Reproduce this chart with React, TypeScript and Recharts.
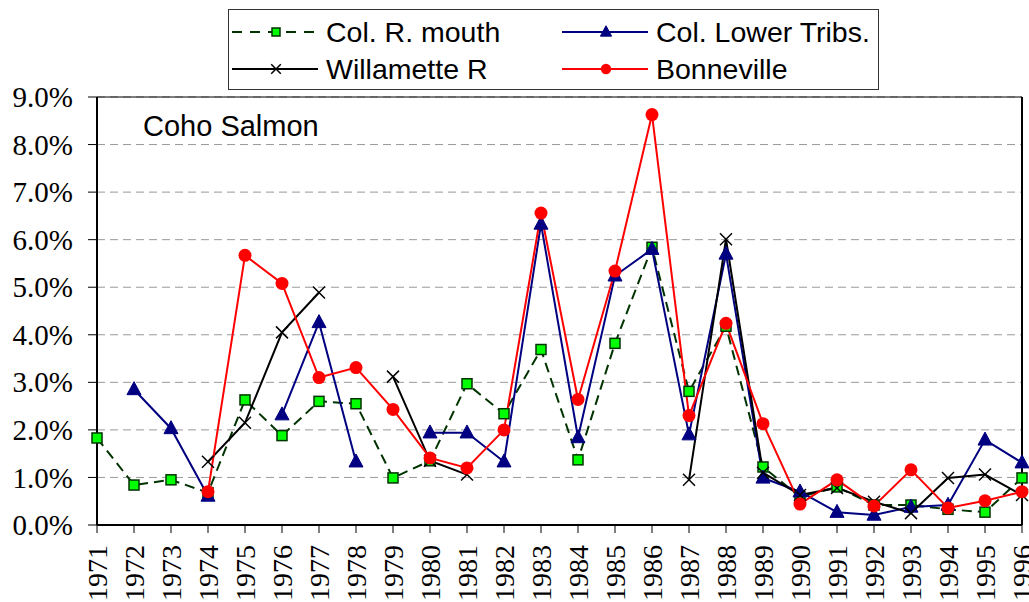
import React from 'react';
import { LineChart, Line, XAxis, YAxis, CartesianGrid, ReferenceLine } from 'recharts';

const years = [
  '1971', '1972', '1973', '1974', '1975', '1976', '1977', '1978', '1979', '1980', '1981', '1982', '1983',
  '1984', '1985', '1986', '1987', '1988', '1989', '1990', '1991', '1992', '1993', '1994', '1995', '1996',
];

// values in percent
const colRMouth = [1.83, 0.84, 0.95, 0.68, 2.63, 1.88, 2.6, 2.55, 0.99, 1.35, 2.97, 2.34, 3.69, 1.37, 3.82, 5.84, 2.81, 4.18, 1.22, 0.59, 0.8, 0.42, 0.42, 0.33, 0.27, 0.99];
const colLowerTribs = [null, 2.85, 2.03, 0.61, null, 2.32, 4.26, 1.33, null, 1.94, 1.94, 1.33, 6.33, 1.84, 5.24, 5.8, 1.9, 5.7, 0.99, 0.7, 0.27, 0.21, 0.38, 0.42, 1.79, 1.31];
const willametteR = [null, null, null, 1.33, 2.15, 4.05, 4.89, null, 3.12, 1.35, 1.06, null, null, null, null, null, 0.95, 6.01, 1.1, 0.63, 0.78, 0.49, 0.25, 0.99, 1.06, 0.63];
const bonneville = [null, null, null, 0.7, 5.67, 5.08, 3.1, 3.31, 2.43, 1.41, 1.2, 2.0, 6.56, 2.64, 5.34, 8.63, 2.3, 4.24, 2.13, 0.44, 0.95, 0.4, 1.16, 0.36, 0.51, 0.7];

const yTicks = [0, 1, 2, 3, 4, 5, 6, 7, 8, 9];

const data = years.map((year, i) => ({
  year,
  mouth: colRMouth[i],
  tribs: colLowerTribs[i],
  willamette: willametteR[i],
  bonneville: bonneville[i],
}));

const SANS = '"Liberation Sans", Arial, sans-serif';
const SERIF = '"Liberation Serif", "Times New Roman", "DejaVu Serif", serif';

type Shape = 'square' | 'triangle' | 'cross' | 'circle';

const Marker = ({ shape, cx, cy, scale = 1 }: { shape: Shape; cx: number; cy: number; scale?: number }) => {
  if (shape === 'square') {
    const s = 10 * scale;
    return <rect x={cx - s / 2} y={cy - s / 2} width={s} height={s} fill="#00ff00" stroke="#003300" strokeWidth={1.5} />;
  }
  if (shape === 'triangle') {
    const w = 14 * scale;
    const h = 13 * scale;
    return (
      <polygon
        points={`${cx},${cy - h * 0.6} ${cx - w / 2},${cy + h * 0.4} ${cx + w / 2},${cy + h * 0.4}`}
        fill="#000080"
        stroke="#000080"
        strokeWidth={1}
      />
    );
  }
  if (shape === 'cross') {
    const r = 6 * scale;
    return (
      <g stroke="#000" strokeWidth={1.5}>
        <line x1={cx - r} y1={cy - r} x2={cx + r} y2={cy + r} />
        <line x1={cx - r} y1={cy + r} x2={cx + r} y2={cy - r} />
      </g>
    );
  }
  return <circle cx={cx} cy={cy} r={6.5 * scale} fill="#ff0000" />;
};

const series = [
  { key: 'mouth', name: 'Col. R. mouth', color: '#003300', dash: '10 6', shape: 'square' as Shape },
  { key: 'tribs', name: 'Col. Lower Tribs.', color: '#000080', dash: undefined, shape: 'triangle' as Shape },
  { key: 'willamette', name: 'Willamette R', color: '#000000', dash: undefined, shape: 'cross' as Shape },
  { key: 'bonneville', name: 'Bonneville', color: '#ff0000', dash: undefined, shape: 'circle' as Shape },
];

const YearTick = (props: any) => {
  const { x, y, payload } = props;
  return (
    <text
      transform={`translate(${x},${y}) rotate(-90)`}
      textAnchor="end"
      dy="0.35em"
      style={{ fontFamily: SERIF, fontSize: 28 }}
      fill="#000"
    >
      {payload.value}
    </text>
  );
};

const PercentTick = (props: any) => {
  const { x, y, payload } = props;
  return (
    <text x={x} y={y} textAnchor="end" dy="0.35em" style={{ fontFamily: SERIF, fontSize: 29 }} fill="#000">
      {`${Number(payload.value).toFixed(1)}%`}
    </text>
  );
};

const LegendBox = () => {
  // legend order: two columns, two rows
  const slots = [
    { s: series[0], x: 232, y: 32 },
    { s: series[1], x: 562, y: 32 },
    { s: series[2], x: 232, y: 69 },
    { s: series[3], x: 562, y: 69 },
  ];
  return (
    <svg width={1029} height={100} style={{ position: 'absolute', left: 0, top: 0 }}>
      <rect x={228.5} y={9.5} width={650} height={80} fill="#fff" stroke="#333" strokeWidth={1} />
      {slots.map(({ s, x, y }) => (
        <g key={s.key}>
          <line x1={x} y1={y} x2={x + 86} y2={y} stroke={s.color} strokeWidth={2} strokeDasharray={s.dash ? '10 8' : undefined} />
          <Marker shape={s.shape} cx={x + 44} cy={y} scale={0.8} />
          <text x={x + 94} y={y} dy="0.36em" style={{ fontFamily: SANS, fontSize: 28.5 }} fill="#000">
            {s.name}
          </text>
        </g>
      ))}
    </svg>
  );
};

export default function App() {
  return (
    <div style={{ position: 'absolute', left: 0, top: 0, width: 1029, height: 602, background: '#fff', overflow: 'hidden' }}>
      <LineChart width={1029} height={602} data={data} margin={{ top: 97, right: 7, left: 0, bottom: 0 }}>
        <CartesianGrid vertical={false} stroke="#999" strokeDasharray="8 5" />
        <XAxis
          dataKey="year"
          padding={{ left: 0, right: 0 }}
          axisLine={{ stroke: '#000', strokeWidth: 2 }}
          tickLine={{ stroke: '#000' }}
          tickSize={8}
          tickMargin={12}
          height={77}
          interval={0}
          tick={<YearTick />}
        />
        <YAxis
          domain={[0, 9]}
          ticks={yTicks}
          width={97}
          axisLine={{ stroke: '#000', strokeWidth: 2 }}
          tickLine={{ stroke: '#000' }}
          tickSize={9}
          tickMargin={15}
          tick={<PercentTick />}
        />
        <ReferenceLine y={9} stroke="#000" strokeWidth={1} />
        <ReferenceLine x="1996" stroke="#000" strokeWidth={2} />
        {series.map((s) => (
          <Line
            key={s.key}
            dataKey={s.key}
            name={s.name}
            type="linear"
            stroke={s.color}
            strokeWidth={2}
            strokeDasharray={s.dash}
            isAnimationActive={false}
            activeDot={false}
            dot={(p: any) =>
              p.cx == null || p.cy == null || p.value == null ? (
                <g key={`${s.key}-${p.index}`} />
              ) : (
                <g key={`${s.key}-${p.index}`}>
                  <Marker shape={s.shape} cx={p.cx} cy={p.cy} />
                </g>
              )
            }
          />
        ))}
        <text x={143} y={136} style={{ fontFamily: SANS, fontSize: 29 }} fill="#000">
          Coho Salmon
        </text>
      </LineChart>
      <LegendBox />
    </div>
  );
}
